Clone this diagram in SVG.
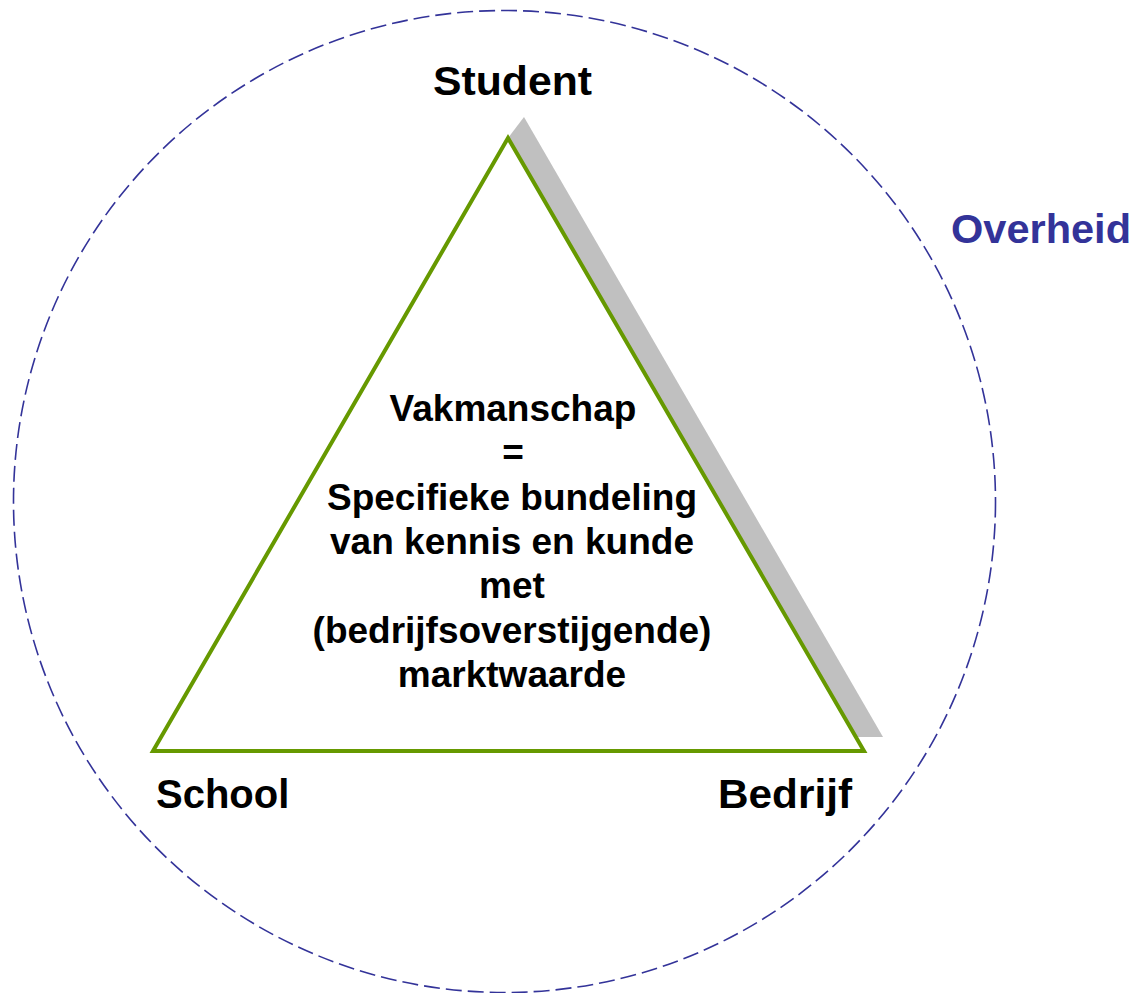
<svg xmlns="http://www.w3.org/2000/svg" width="1135" height="993" viewBox="0 0 1135 993">
  <style>
    .lbl { font-family: "Liberation Sans", Arial, sans-serif; font-weight: bold; font-size: 40px; fill: #000; }
    .ctr { font-family: "Liberation Sans", Arial, sans-serif; font-weight: bold; font-size: 37px; fill: #000; text-anchor: middle; }
  </style>
  <rect width="1135" height="993" fill="#fff"/>
  <g id="overheid">
    <circle cx="504.5" cy="501.5" r="491" fill="none" stroke="#333399" stroke-width="1.6" stroke-dasharray="16 6"/>
    <text class="lbl" x="951" y="243" style="fill:#333399" textLength="180" lengthAdjust="spacingAndGlyphs">Overheid</text>
  </g>
  <g id="triangle">
    <polygon points="524,117 883,737 840,737 508,138" fill="#c0c0c0"/>
    <polygon points="508,138 153,751 864,751" fill="#fff" stroke="#669900" stroke-width="4" stroke-linejoin="miter"/>
    <text class="ctr" x="513" y="421">Vakmanschap</text>
    <text class="ctr" x="513" y="465">=</text>
    <text class="ctr" x="512" y="509.5">Specifieke bundeling</text>
    <text class="ctr" x="512" y="554">van kennis en kunde</text>
    <text class="ctr" x="512" y="598">met</text>
    <text class="ctr" x="512" y="642.5">(bedrijfsoverstijgende)</text>
    <text class="ctr" x="512" y="687">marktwaarde</text>
  </g>
  <g id="student">
    <text class="lbl" x="433" y="95" textLength="159" lengthAdjust="spacingAndGlyphs">Student</text>
  </g>
  <g id="school">
    <text class="lbl" x="156" y="808">School</text>
  </g>
  <g id="bedrijf">
    <text class="lbl" x="718" y="808" textLength="134" lengthAdjust="spacingAndGlyphs">Bedrijf</text>
  </g>
</svg>
